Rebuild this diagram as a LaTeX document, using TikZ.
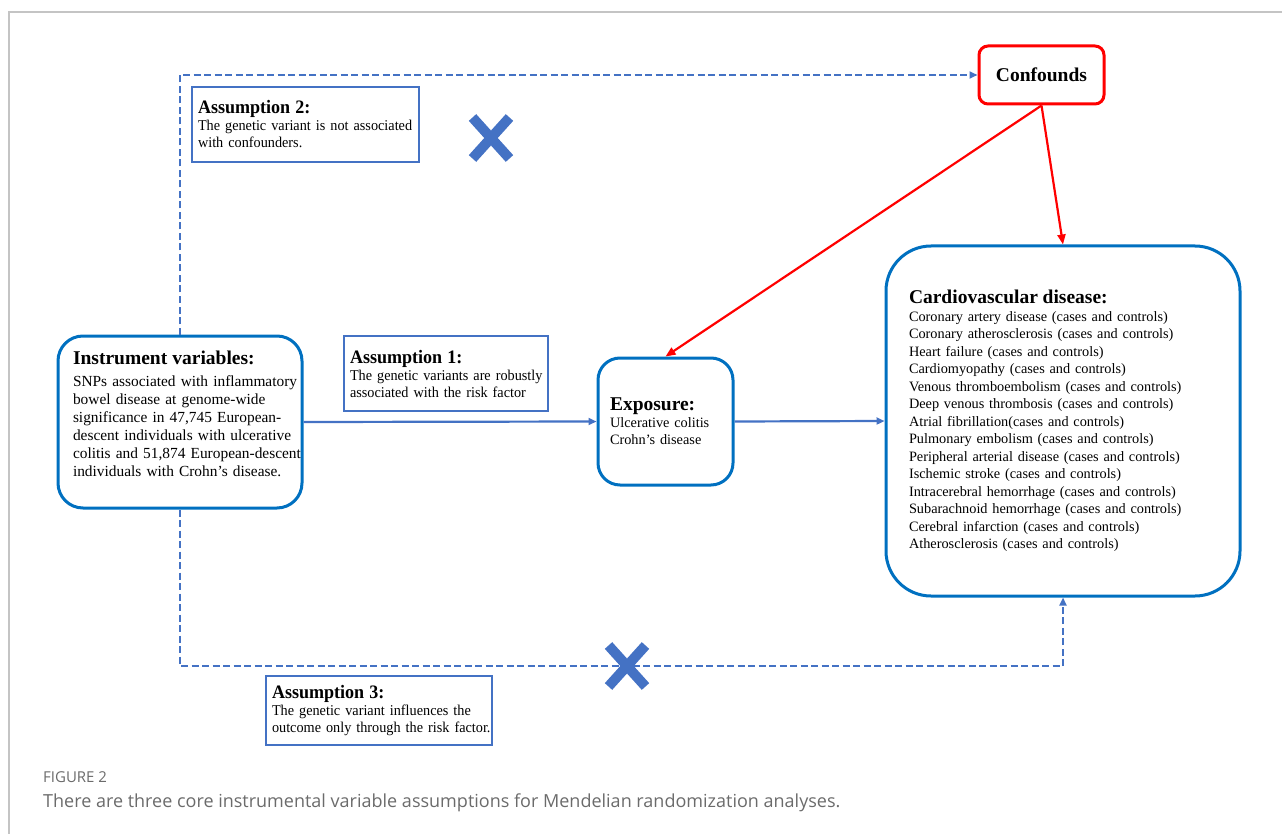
\documentclass[tikz,border=0pt]{standalone}
\usepackage{fontspec}
\setmainfont{Liberation Serif}
\newfontfamily\condfont[FakeStretch=0.95]{Liberation Serif}
\newfontfamily\capfont{Open Sans}
\usetikzlibrary{positioning,calc,arrows.meta,shapes}
\definecolor{boxblue}{HTML}{0070C0}
\definecolor{lineblue}{HTML}{4472C4}
\definecolor{capgray}{HTML}{6B6B6B}
\definecolor{framegray}{HTML}{C4C4C4}
\newcommand{\bigtitle}[1]{{\fontsize{19.5}{22}\selectfont\bfseries #1}}
\newcommand{\smalltitle}[1]{{\fontsize{19}{20}\selectfont\bfseries #1}}

\begin{document}
\begin{tikzpicture}[x=1pt,y=-1pt,
    roundbox/.style={draw=boxblue,line width=3pt,align=left,inner xsep=-10pt,inner ysep=0pt},
    assumbox/.style={draw=lineblue,line width=2.2pt,align=left,inner xsep=-10pt,inner ysep=0pt,
        minimum height=75pt,font=\condfont\fontsize{15}{17}\selectfont},
    flowline/.style={lineblue,line width=2.2pt,-{Triangle[length=8pt,width=7pt]}},
    dashline/.style={lineblue,line width=2.8pt,dash pattern=on 7pt off 3.5pt},
    redline/.style={red,line width=2.2pt,-{Triangle[length=10pt,width=8pt]}},
    nomark/.style={cross out,draw=lineblue,line width=10pt,minimum width=27pt,
        minimum height=31pt,inner sep=0pt}]
  \useasboundingbox (0,0) rectangle (1282,834);
  \draw[framegray,line width=1.2pt] (9,834) -- (9,12) -- (1282,12);

  \node[roundbox,rounded corners=25pt,text width=264pt,minimum height=172pt,
        font=\fontsize{15.4}{18}\selectfont] (instr) at (180,422)
    {\leftskip=25pt\bigtitle{Instrument variables:}\\[4pt]
     SNPs associated with inflammatory\\
     bowel disease at genome-wide\\
     significance in 47,745 European-\\
     descent individuals with ulcerative\\
     colitis and 51,874 European-descent\\
     individuals with Crohn's disease.\rule[-17pt]{0pt}{0pt}\par};

  \node[roundbox,rounded corners=22pt,text width=155pt,minimum height=127pt,
        font=\fontsize{14.3}{17}\selectfont] (expo) at (665.5,421.5)
    {\leftskip=22pt\bigtitle{Exposure:}\\
     Ulcerative colitis\\
     Crohn's disease\par};

  \node[roundbox,rounded corners=45pt,text width=374pt,minimum height=350pt,
        font=\fontsize{14.3}{17.5}\selectfont] (cvd) at (1063,421)
    {\leftskip=33pt\bigtitle{Cardiovascular disease:}\\
     Coronary artery disease (cases and controls)\\
     Coronary atherosclerosis (cases and controls)\\
     Heart failure (cases and controls)\\
     Cardiomyopathy (cases and controls)\\
     Venous thromboembolism (cases and controls)\\
     Deep venous thrombosis (cases and controls)\\
     Atrial fibrillation(cases and controls)\\
     Pulmonary embolism (cases and controls)\\
     Peripheral arterial disease (cases and controls)\\
     Ischemic stroke (cases and controls)\\
     Intracerebral hemorrhage (cases and controls)\\
     Subarachnoid hemorrhage (cases and controls)\\
     Cerebral infarction (cases and controls)\\
     Atherosclerosis (cases and controls)\par};

  \node[draw=red,line width=3pt,rounded corners=9pt,minimum width=125pt,
        minimum height=58pt,font=\fontsize{19.5}{21}\selectfont\bfseries] (conf) at (1041.5,75) {Confounds};

  \node[assumbox,text width=224pt] (assum1) at (446,373.5)
    {\leftskip=16pt\smalltitle{Assumption 1:}\\
     The genetic variants are robustly\\
     associated with the risk factor\par};
  \node[assumbox,text width=247pt] (assum2) at (305.5,124.5)
    {\leftskip=16pt\smalltitle{Assumption 2:}\\
     The genetic variant is not associated\\
     with confounders.\par};
  \node[assumbox,text width=246pt,minimum height=69pt] (assum3) at (379,710.5)
    {\leftskip=16pt\smalltitle{Assumption 3:}\\
     The genetic variant influences the\\
     outcome only through the risk factor.\par};

  \coordinate (turn3) at (627,666);
  \draw[dashline,-{Triangle[length=8pt,width=7pt]}] (instr.north) |- (conf.west);
  \draw[dashline,-{Triangle[length=8pt,width=7pt]}] (instr.south) |- (turn3) -| (cvd.south);
  \draw[flowline] (instr.east) -- (expo.west);
  \draw[flowline] (expo.east) -- (cvd.west);
  \draw[redline] (conf.south) -- (expo.north);
  \draw[redline] (conf.south) -- (cvd.north);

  \node[nomark] (cross2) at (491,138) {};
  \node[nomark] (cross3) at (turn3) {};

  \node[anchor=base west,inner sep=0pt,text=capgray,font=\capfont\fontsize{15}{17}\selectfont] (figlabel) at (43,782) {FIGURE 2};
  \node[anchor=base west,inner sep=0pt,text=capgray,font=\capfont\fontsize{18}{21}\selectfont] (caption) at (43,807)
    {There are three core instrumental variable assumptions for Mendelian randomization analyses.};
\end{tikzpicture}
\end{document}
